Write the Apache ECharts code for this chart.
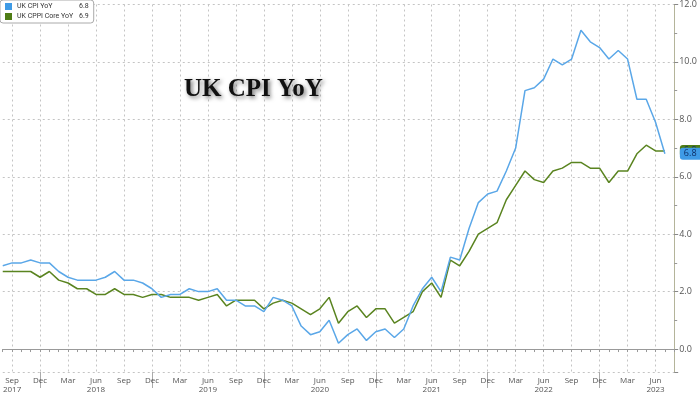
<!DOCTYPE html>
<html><head><meta charset="utf-8">
<script src="https://cdn.jsdelivr.net/npm/echarts@6/dist/echarts.min.js"></script>
<style>html,body{margin:0;padding:0;background:#fff}#c{width:700px;height:394px}</style>
</head><body><div id="c"></div>
<script>
// Monthly categories Aug 2017 .. Aug 2023
const monthNames = ['Jan','Feb','Mar','Apr','May','Jun','Jul','Aug','Sep','Oct','Nov','Dec'];
const categories = [];
for (let y = 2017; y <= 2023; y++) {
  for (let m = 0; m < 12; m++) {
    if (y === 2017 && m < 7) continue;
    if (y === 2023 && m > 7) continue;
    categories.push(monthNames[m] + ' ' + y);
  }
}
const cpiYoY = [2.9,3.0,3.0,3.1,3.0, 3.0,2.7,2.5,2.4,2.4,2.4,2.5,2.7,2.4,2.4,2.3,2.1,
  1.8,1.9,1.9,2.1,2.0,2.0,2.1,1.7,1.7,1.5,1.5,1.3,
  1.8,1.7,1.5,0.8,0.5,0.6,1.0,0.2,0.5,0.7,0.3,0.6,
  0.7,0.4,0.7,1.5,2.1,2.5,2.0,3.2,3.1,4.2,5.1,5.4,
  5.5,6.2,7.0,9.0,9.1,9.4,10.1,9.9,10.1,11.1,10.7,10.5,
  10.1,10.4,10.1,8.7,8.7,7.9,6.8];
const coreYoY = [2.7,2.7,2.7,2.7,2.5, 2.7,2.4,2.3,2.1,2.1,1.9,1.9,2.1,1.9,1.9,1.8,1.9,
  1.9,1.8,1.8,1.8,1.7,1.8,1.9,1.5,1.7,1.7,1.7,1.4,
  1.6,1.7,1.6,1.4,1.2,1.4,1.8,0.9,1.3,1.5,1.1,1.4,
  1.4,0.9,1.1,1.3,2.0,2.3,1.8,3.1,2.9,3.4,4.0,4.2,
  4.4,5.2,5.7,6.2,5.9,5.8,6.2,6.3,6.5,6.5,6.3,6.3,
  5.8,6.2,6.2,6.8,7.1,6.9,6.9];
const seriesNames = ['UK CPI YoY','UK CPPI Core YoY'];
const lastValues = ['6.8','6.9'];
const labelMonths = ['Sep','Dec','Mar','Jun'];

const chart = echarts.init(document.getElementById('c'), null, {renderer:'canvas'});
const isLabelMonth = (i) => labelMonths.indexOf(categories[i].split(' ')[0]) >= 0;
chart.setOption({
  animation: false,
  textStyle: {fontFamily: 'Open Sans, DejaVu Sans, sans-serif'},
  title: {
    text: 'UK CPI YoY', left: 179, top: 72,
    textStyle: {fontFamily: 'Liberation Serif, Times New Roman, serif', fontWeight: 'bold', fontSize: 25, color: '#111',
      textShadowColor: 'rgba(0,0,0,0.55)', textShadowBlur: 4, textShadowOffsetX: 2, textShadowOffsetY: 2}
  },
  legend: {
    left: 0, top: 0, orient: 'vertical', icon: 'rect', itemWidth: 7, itemHeight: 7, itemGap: 3,
    backgroundColor: '#fff', borderColor: '#aaa', borderWidth: 1, borderRadius: 3, padding: [3, 5, 3, 5],
    formatter: (name) => '{n|' + name + '}{v|' + lastValues[seriesNames.indexOf(name)] + '}',
    textStyle: {fontSize: 7, color: '#333', fontFamily: 'Roboto',
      rich: {n: {width: 62, fontSize: 7, color: '#333', fontFamily: 'Roboto'}, v: {fontSize: 7, color: '#333', fontFamily: 'Roboto'}}}
  },
  grid: {left: 0, right: 20, top: 0, bottom: 16},
  xAxis: [{
    type: 'category', data: categories, boundaryGap: false,
    axisLine: {lineStyle: {color: '#999'}},
    axisTick: {interval: 0, length: 3, lineStyle: {color: '#999'}},
    axisLabel: {
      interval: (i) => isLabelMonth(i), margin: 4, fontSize: 8, color: '#555', lineHeight: 9,
      formatter: (v, i) => {
        const p = v.split(' ');
        if (p[0] === 'Jun' || i === 1) return p[0] + '\n' + p[1];
        return p[0];
      }
    },
    splitLine: {show: true, interval: (i) => isLabelMonth(i), lineStyle: {color: '#c4c4c4', type: [2, 3]}}
  }, {
    type: 'category', data: categories, boundaryGap: false, position: 'bottom',
    axisLine: {show: false}, axisLabel: {show: false}, splitLine: {show: false},
    axisTick: {interval: (i) => categories[i].startsWith('Dec'), length: 16, lineStyle: {color: '#aaa'}}
  }],
  yAxis: {
    type: 'value', position: 'right', min: -0.8, max: 12, splitNumber: 6,
    axisLine: {show: true, lineStyle: {color: '#b4b49a'}},
    axisTick: {show: true, length: 4, lineStyle: {color: '#888'}},
    minorTick: {show: true, splitNumber: 2, length: 3, lineStyle: {color: '#999'}},
    axisLabel: {showMinLabel: false, margin: 5, fontSize: 9, color: '#555', formatter: (v) => v.toFixed(1)},
    splitLine: {show: true, lineStyle: {color: '#c4c4c4', type: [2, 3]}}
  },
  series: [{
    name: seriesNames[0], type: 'line', data: cpiYoY, showSymbol: false, z: 4,
    itemStyle: {color: '#3f9be6'}, lineStyle: {width: 1.5, color: '#5aa7e8'},
    endLabel: {show: true, formatter: (p) => p.value.toFixed(1), distance: 15, fontSize: 9, color: '#0d2f66',
      backgroundColor: '#3f9be6', padding: [2, 6, 1, 4], borderRadius: [3,0,0,3]}
  }, {
    name: seriesNames[1], type: 'line', data: coreYoY, showSymbol: false, z: 3,
    itemStyle: {color: '#4f7d15'}, lineStyle: {width: 1.5, color: '#5a8420'},
    endLabel: {show: true, formatter: (p) => p.value.toFixed(1), distance: 15, fontSize: 9, color: '#0d2f66',
      backgroundColor: '#4f7d15', padding: [2, 6, 1, 4], borderRadius: [3,0,0,3]}
  }]
});
</script></body></html>
